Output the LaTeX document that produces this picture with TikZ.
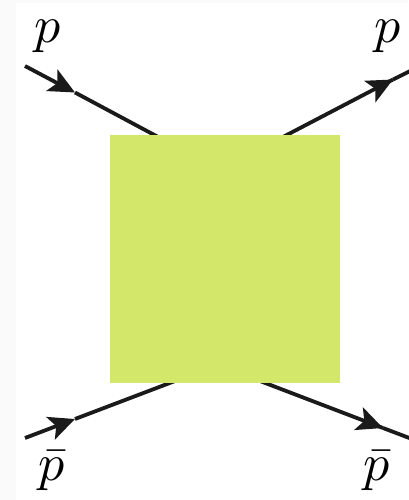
\documentclass[tikz,border=0pt]{standalone}
\usepackage{graphicx}
\usetikzlibrary{arrows.meta,calc}
\definecolor{blobgreen}{RGB}{211,232,107}
\definecolor{linegray}{RGB}{26,26,26}
\newcommand{\biglbl}[1]{\scalebox{5.2}{$#1$}}
\begin{document}
\begin{tikzpicture}[x=1pt,y=-1pt,
  leg/.style={line width=3.8pt,draw=linegray},
  legarrow/.style={leg,-{Stealth[length=26pt,width=24pt,inset=6pt]}},
  lbl/.style={inner sep=0pt}]
\useasboundingbox (0,0) rectangle (408,500);
\fill[white] (0,0) rectangle (408,500);
\fill[black!2] (0,0) rectangle (408,3);
\fill[black!2] (0,3) rectangle (16,500);
% coordinates
\coordinate (tlS) at (25,66);
\coordinate (tlM) at (75,92.5);
\coordinate (tlE) at (160,138);
\coordinate (trS) at (281,138);
\coordinate (trM) at (393,79.5);
\coordinate (trE) at (412,70);
\coordinate (blS) at (25,438);
\coordinate (blM) at (75,419);
\coordinate (blE) at (175,381);
\coordinate (brS) at (260,381);
\coordinate (brM) at (383,428);
\coordinate (brE) at (412,439);
% legs
\draw[legarrow] (tlS) -- (tlM);
\draw[leg] (tlM) -- (tlE);
\draw[leg] (trS) -- (trM);
\draw[legarrow] ($(trS)!0.85!(trM)$) -- (trM);
\draw[leg] (trM) -- (trE);
\draw[legarrow] (blS) -- (blM);
\draw[leg] (blM) -- (blE);
\draw[leg] (brS) -- (brM);
\draw[legarrow] ($(brS)!0.85!(brM)$) -- (brM);
\draw[leg] (brM) -- (brE);
% blob
\node[fill=blobgreen,inner sep=0pt,minimum width=230pt,minimum height=248pt,anchor=north west] (blob) at (110,135) {};
% labels
\node[lbl] (ptl) at (48,36) {\biglbl{p}};
\node[lbl] (ptr) at (388,36) {\biglbl{p}};
\node[lbl] (pbl) at (52,471) {\biglbl{\bar{p}}};
\node[lbl] (pbr) at (377,471) {\biglbl{\bar{p}}};
\end{tikzpicture}
\end{document}
